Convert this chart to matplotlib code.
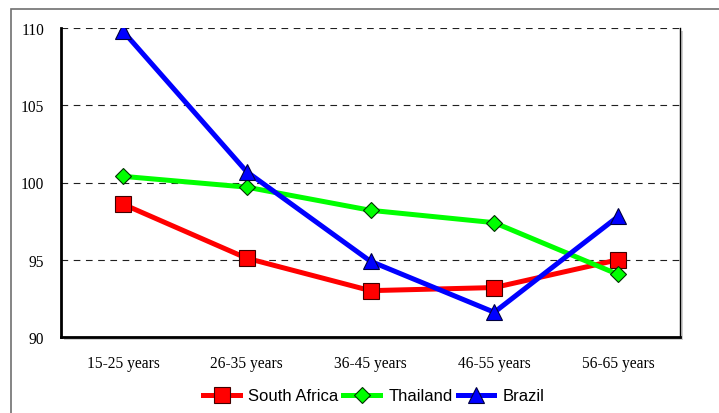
import matplotlib
matplotlib.use("Agg")
import matplotlib.pyplot as plt
from matplotlib.patches import Rectangle

categories = ["15-25 years", "26-35 years", "36-45 years", "46-55 years", "56-65 years"]
south_africa = [98.6, 95.1, 93.0, 93.2, 95.0]
thailand = [100.4, 99.7, 98.2, 97.4, 94.05]
brazil = [109.8, 100.7, 94.9, 91.6, 97.8]
y_ticks = [90, 95, 100, 105, 110]

W, H = 719, 414
fig = plt.figure(figsize=(W / 100, H / 100), dpi=100)

# outer frame
fig.add_artist(Rectangle((11 / W, -0.05), 1.2, (H - 10) / H + 0.05, transform=fig.transFigure,
                         fill=False, edgecolor="#707070", linewidth=1.2))

left, right, top, bottom = 61, 680, 29, 338
ax = fig.add_axes([left / W, 1 - bottom / H, (right - left) / W, (bottom - top) / H])

# drop shadow behind the plot area
fig.add_artist(Rectangle(((left + 3) / W, 1 - (bottom + 3) / H), (right - left) / W, (bottom - top) / H,
                         transform=fig.transFigure, facecolor="#d0d0d0", edgecolor="none", zorder=-1))
ax.set_facecolor("white")

x = list(range(len(categories)))
ax.plot(x, south_africa, color="#ff0000", lw=3.6, marker="s", ms=11.5, mfc="#ff0000",
        mec="#400000", mew=0.8, label="South Africa", zorder=3)
ax.plot(x, thailand, color="#00ff00", lw=3.6, marker="D", ms=8, mfc="#00ff00",
        mec="#003000", mew=0.8, label="Thailand", zorder=3)
ax.plot(x, brazil, color="#0000ff", lw=3.6, marker="^", ms=11, mfc="#0000ff",
        mec="#000040", mew=0.8, label="Brazil", zorder=4)

ax.set_xlim(-0.5, 4.5)
ax.set_ylim(90, 110)
ax.set_yticks(y_ticks)
ax.set_xticks(x)
ax.set_xticklabels(categories)
ax.tick_params(length=0, labelsize=11.2)
for lbl in ax.get_xticklabels() + ax.get_yticklabels():
    lbl.set_fontfamily("Liberation Serif")
ax.tick_params(axis="y", pad=12)
ax.tick_params(axis="x", pad=13)

ax.yaxis.grid(True, linestyle=(0, (6, 5)), color="#202020", linewidth=0.8)
ax.set_axisbelow(True)
ax.spines["top"].set_visible(False)
for s in ["left", "bottom"]:
    ax.spines[s].set_linewidth(2)
ax.spines["right"].set_linewidth(1)

fig.legend(loc="center", bbox_to_anchor=(0.52, 1 - 397 / H), ncol=3, frameon=False,
           prop={"family": "Liberation Sans", "size": 12}, handlelength=2.2,
           columnspacing=0.3, handletextpad=0.5)

fig.savefig("out.png", dpi=100)
